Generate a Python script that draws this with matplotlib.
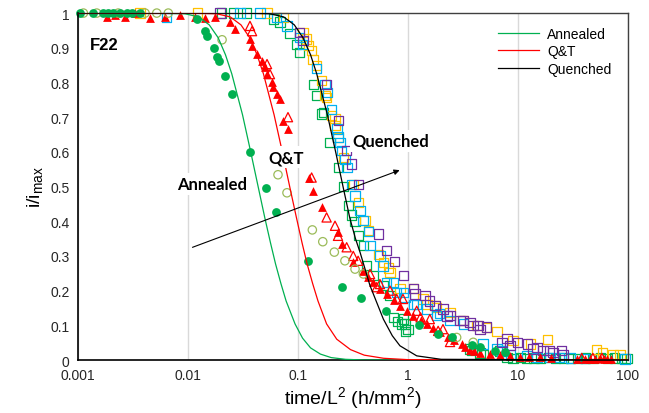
import matplotlib
matplotlib.use("Agg")
import matplotlib.pyplot as plt
from matplotlib.ticker import FixedLocator, FixedFormatter

plt.rcParams['font.family'] = ['Liberation Sans', 'DejaVu Sans']
plt.rcParams['mathtext.default'] = 'regular'

# Annealed - filled and open circles
ann_circ_x = [0.00104, 0.00137, 0.00169, 0.00188, 0.00208, 0.00241, 0.00279, 0.0031, 0.00366,
              0.0121, 0.0143, 0.0149, 0.0172, 0.0184, 0.0191, 0.0217, 0.0251, 0.0366, 0.0512,
              0.0631, 0.124, 0.251, 0.374, 0.631, 1.26, 1.87, 2.51, 3.82, 4.52, 6.18, 7.62]
ann_circ_y = [1.0, 1.0, 1.0, 1.0, 1.0, 1.0, 1.0, 1.0, 1.0,
              0.983, 0.949, 0.934, 0.90, 0.873, 0.862, 0.818, 0.767, 0.599, 0.496,
              0.427, 0.285, 0.21, 0.179, 0.141, 0.101, 0.075, 0.066, 0.043, 0.037, 0.026, 0.022]

ann_open_x = [0.00112, 0.00148, 0.00232, 0.00407, 0.0052, 0.00662, 0.0204, 0.0658, 0.0794,
              0.135, 0.168, 0.214, 0.267, 0.33, 0.393, 2.77, 3.92]
ann_open_y = [1.0, 1.0, 1.0, 1.0, 1.0, 1.0, 0.923, 0.534, 0.482,
              0.375, 0.341, 0.311, 0.286, 0.262, 0.248, 0.065, 0.051]

# Q&T - filled and open triangles
qt_fill_x = [0.00184, 0.00217, 0.00267, 0.0033, 0.00452, 0.00618, 0.00846, 0.0116, 0.0143, 0.0176,
             0.0241, 0.0267, 0.0366, 0.0382, 0.0424, 0.0471, 0.0501, 0.0523, 0.058, 0.0596,
             0.064, 0.0686, 0.0733, 0.0815, 0.127, 0.138, 0.165, 0.232, 0.249, 0.318, 0.394,
             0.43, 0.484, 0.56, 0.64, 0.74, 0.845, 0.98, 1.12, 1.3, 1.48, 1.7, 1.95, 2.33, 2.6,
             3.08, 3.3, 3.66, 4.0, 4.52, 5.56, 6.86, 8.46, 10.4, 12.5, 15.8, 20.0,
             34.4, 40.6, 45.0, 50.1, 55.6, 60.0, 64.4, 70.0]
qt_fill_y = [0.99, 0.995, 0.99, 1.0, 0.985, 0.99, 0.995, 0.99, 0.985, 0.99,
             0.974, 0.955, 0.925, 0.905, 0.882, 0.862, 0.844, 0.824, 0.801, 0.786,
             0.767, 0.752, 0.69, 0.666, 0.524, 0.488, 0.44, 0.368, 0.334, 0.282, 0.257,
             0.24, 0.224, 0.205, 0.19, 0.172, 0.156, 0.142, 0.128, 0.115, 0.104, 0.092, 0.08, 0.065, 0.058,
             0.046, 0.037, 0.03, 0.026, 0.02, 0.017, 0.014, 0.012, 0.009, 0.008, 0.009, 0.006,
             0.003, 0.003, 0.004, 0.003, 0.006, 0.004, 0.003, 0.004]

qt_open_x = [0.0366, 0.0382, 0.0523, 0.0556, 0.0811, 0.133, 0.182, 0.217, 0.231, 0.277, 0.318,
             0.352, 0.452, 0.52, 0.556, 0.686, 0.79, 0.90, 1.2, 1.3, 1.58, 1.88, 2.08, 2.41,
             38.0, 48.0, 58.0]
qt_open_y = [0.963, 0.948, 0.853, 0.824, 0.70, 0.526, 0.411, 0.387, 0.358, 0.325, 0.30,
             0.286, 0.248, 0.21, 0.219, 0.20, 0.176, 0.176, 0.142, 0.123, 0.118, 0.084, 0.089, 0.052,
             0.006, 0.006, 0.006]

# Quenched - open squares, one colour per sample
qg_x = [0.0203, 0.0258, 0.0342, 0.0597, 0.0686, 0.0846, 0.097, 0.104, 0.138, 0.148, 0.164, 0.17,
        0.195, 0.232, 0.26, 0.286, 0.307, 0.33, 0.353, 0.393, 0.421, 0.48, 0.597, 0.686, 0.74, 0.8,
        0.87, 0.908, 0.94, 0.95, 1.0, 3.66, 3.82, 4.52, 4.84, 6.86,
        7.94, 9.0, 10.5, 12.0, 14.0, 16.0, 19.0, 22.0, 26.0, 30.0, 35.0, 41.0, 48.0, 56.0, 65.0,
        76.0, 88.0, 98.0]
qg_y = [1.0, 1.0, 1.0, 0.983, 0.974, 0.94, 0.91, 0.887, 0.795, 0.762, 0.709, 0.714,
        0.627, 0.556, 0.50, 0.445, 0.418, 0.40, 0.358, 0.329, 0.272, 0.243, 0.214, 0.185, 0.123, 0.112,
        0.104, 0.118, 0.104, 0.082, 0.089, 0.032, 0.027, 0.02, 0.017, 0.026,
        0.008, 0.005, 0.007, 0.004, 0.006, 0.005, 0.007, 0.004, 0.006, 0.005, 0.004, 0.006, 0.005,
        0.007, 0.004, 0.006, 0.005, 0.004]

qo_x = [0.00366, 0.0121, 0.0523, 0.0736, 0.111, 0.12, 0.124, 0.133, 0.137, 0.148, 0.164, 0.176,
        0.182, 0.203, 0.217, 0.217, 0.231, 0.258, 0.318, 0.352, 0.407, 0.435, 0.537, 0.595, 0.66,
        0.686, 0.845, 1.12, 1.37, 1.49, 1.76, 1.83, 2.41, 3.16, 4.24, 5.2, 6.45, 9.0, 12.9, 18.4,
        52.0, 59.0, 73.0, 84.5]
qo_y = [1.0, 1.0, 1.0, 0.988, 0.944, 0.925, 0.906, 0.891, 0.867, 0.848, 0.805, 0.762,
        0.757, 0.704, 0.695, 0.675, 0.642, 0.584, 0.507, 0.454, 0.401, 0.373, 0.305, 0.282, 0.265,
        0.253, 0.205, 0.205, 0.176, 0.161, 0.156, 0.152, 0.137, 0.113, 0.099, 0.094, 0.083, 0.056, 0.046, 0.059,
        0.03, 0.02, 0.017, 0.017]

qc_x = [0.0064, 0.0297, 0.0452, 0.064, 0.0794, 0.104, 0.109, 0.148, 0.176, 0.184, 0.203, 0.226,
        0.231, 0.241, 0.25, 0.267, 0.279, 0.307, 0.33, 0.366, 0.39, 0.435, 0.452, 0.556, 0.593,
        0.64, 0.736, 0.79, 0.908, 0.94, 1.12, 1.2, 1.49, 1.83, 1.95, 2.41, 3.18, 4.81, 6.45, 7.16,
        8.5, 12.1, 14.9, 19.5, 24.0, 30.0, 40.0, 93.9]
qc_y = [0.988, 1.0, 1.0, 0.988, 0.963, 0.929, 0.91, 0.84, 0.795, 0.771, 0.723, 0.666,
        0.643, 0.628, 0.603, 0.579, 0.556, 0.507, 0.473, 0.43, 0.401, 0.37, 0.329, 0.30, 0.271,
        0.224, 0.224, 0.195, 0.195, 0.18, 0.161, 0.161, 0.147, 0.128, 0.133, 0.114, 0.104, 0.046, 0.032, 0.026,
        0.017, 0.012, 0.008, 0.008, 0.008, 0.006, 0.005, 0.003]

qp_x = [0.0195, 0.104, 0.111, 0.182, 0.233, 0.277, 0.307, 0.353, 0.537, 0.64, 0.75, 0.908, 1.12,
        1.16, 1.43, 1.58, 1.76, 2.08, 2.26, 2.41, 2.97, 3.16, 3.66, 3.9, 4.33, 4.52, 5.2, 7.16,
        7.94, 8.46, 9.9, 12.3, 13.7, 14.9, 16.9, 19.5, 20.8, 25.0, 25.7]
qp_y = [1.0, 0.944, 0.92, 0.795, 0.69, 0.603, 0.565, 0.507, 0.363, 0.316, 0.284, 0.243, 0.205,
        0.19, 0.185, 0.17, 0.156, 0.147, 0.127, 0.128, 0.113, 0.113, 0.108, 0.099, 0.099, 0.089, 0.095, 0.05,
        0.061, 0.041, 0.051, 0.046, 0.032, 0.037, 0.027, 0.027, 0.022, 0.027, 0.017]

# fitted diffusion curves
ann_fit_x = [0.001, 0.005, 0.0094, 0.0125, 0.0156, 0.0188, 0.0219, 0.025, 0.0313, 0.0375, 0.0438,
             0.05, 0.0563, 0.0625, 0.07, 0.078, 0.094, 0.11, 0.13, 0.16, 0.2, 0.27, 0.4, 100]
ann_fit_y = [1.0, 1.0, 0.998, 0.989, 0.966, 0.929, 0.88, 0.825, 0.707, 0.594, 0.494,
             0.409, 0.337, 0.277, 0.22, 0.17, 0.104, 0.063, 0.035, 0.017, 0.007, 0.002, 0.0, 0.0]

qt_fit_x = [0.001, 0.01, 0.0182, 0.0242, 0.0303, 0.0364, 0.0424, 0.0485, 0.0606, 0.0727, 0.0848,
            0.097, 0.109, 0.121, 0.136, 0.152, 0.182, 0.225, 0.3, 0.4, 0.6, 1.0, 100]
qt_fit_y = [1.0, 1.0, 0.998, 0.989, 0.966, 0.929, 0.88, 0.825, 0.707, 0.594, 0.494,
            0.409, 0.337, 0.277, 0.22, 0.17, 0.104, 0.06, 0.03, 0.014, 0.005, 0.001, 0.0]

q_fit_x = [0.001, 0.03, 0.0556, 0.074, 0.0926, 0.111, 0.13, 0.148, 0.185, 0.222, 0.259, 0.296,
           0.333, 0.367, 0.452, 0.597, 0.72, 0.845, 1.2, 2.0, 100]
q_fit_y = [1.0, 1.0, 0.998, 0.989, 0.966, 0.929, 0.88, 0.825, 0.707, 0.594, 0.494, 0.409,
           0.35, 0.31, 0.214, 0.118, 0.07, 0.041, 0.012, 0.002, 0.0]

xticks = [0.001, 0.01, 0.1, 1, 10, 100]
xtick_labels = ['0.001', '0.01', '0.1', '1', '10', '100']

fig = plt.figure(figsize=(6.49, 4.14), dpi=100)
ax = fig.add_axes([0.1202, 0.128, 0.8474, 0.838])

sq = dict(marker='s', s=44, facecolors='none', linewidths=0.9, clip_on=False, zorder=2)
ax.scatter(qg_x, qg_y, edgecolors='#00B050', **sq)
ax.scatter(qo_x, qo_y, edgecolors='#FFC000', **sq)
ax.scatter(qc_x, qc_y, edgecolors='#00B0F0', **sq)
ax.scatter(qp_x, qp_y, edgecolors='#7030A0', **sq)

ax.scatter(qt_open_x, qt_open_y, marker='^', s=44, facecolors='none', edgecolors='#FF0000',
           linewidths=0.9, clip_on=False, zorder=2)
ax.scatter(qt_fill_x, qt_fill_y, marker='^', s=40, color='#FF0000', linewidths=0,
           clip_on=False, zorder=2)
ax.scatter(ann_open_x, ann_open_y, marker='o', s=36, facecolors='none', edgecolors='#9BBB59',
           linewidths=0.9, clip_on=False, zorder=2)
ax.scatter(ann_circ_x, ann_circ_y, marker='o', s=40, color='#00B050', linewidths=0,
           clip_on=False, zorder=2)

ax.plot(ann_fit_x, ann_fit_y, color='#00B050', lw=0.9, label='Annealed', zorder=3)
ax.plot(qt_fit_x, qt_fit_y, color='#FF0000', lw=0.9, label='Q&T', zorder=3)
ax.plot(q_fit_x, q_fit_y, color='black', lw=0.9, label='Quenched', zorder=3)

ax.set_xscale('log')
ax.set_xlim(0.001, 100)
ax.set_ylim(0, 1)
ax.xaxis.set_major_locator(FixedLocator(xticks))
ax.xaxis.set_major_formatter(FixedFormatter(xtick_labels))
ax.xaxis.set_minor_locator(FixedLocator([]))
ax.set_yticks([0, 0.1, 0.2, 0.3, 0.4, 0.5, 0.6, 0.7, 0.8, 0.9, 1])
ax.set_yticklabels(['0', '0.1', '0.2', '0.3', '0.4', '0.5', '0.6', '0.7', '0.8', '0.9', '1'])
ax.tick_params(length=0, labelsize=10, labelcolor='#262626', pad=6)
ax.grid(axis='x', color='#D9D9D9', lw=1)
ax.set_axisbelow(True)
for side in ['top', 'right']:
    ax.spines[side].set_color('#404040')
    ax.spines[side].set_linewidth(1)
for side in ['left', 'bottom']:
    ax.spines[side].set_color('black')
    ax.spines[side].set_linewidth(1.2)

ax.set_xlabel('time/L$^2$ (h/mm$^2$)', fontsize=14, labelpad=1)
ax.set_ylabel('i/i$_{max}$', fontsize=14, labelpad=4)

ax.legend(loc='upper left', bbox_to_anchor=(0.767, 0.933), bbox_transform=fig.transFigure,
          frameon=False, fontsize=10, handlelength=3.0, handletextpad=0.55,
          labelspacing=0.25, borderpad=0, borderaxespad=0)

box = dict(facecolor='white', edgecolor='none', pad=2)
lbl = dict(fontsize=12, fontweight='bold', family=['Lato', 'DejaVu Sans'],
           ha='center', va='center', zorder=5, bbox=box)
ax.text(0.0165, 0.507, 'Annealed', **lbl)
ax.text(0.0778, 0.585, 'Q&T', **lbl)
ax.text(0.70, 0.632, 'Quenched', **lbl)
ax.text(0.00129, 0.91, 'F22', fontsize=12, fontweight='bold', ha='left', va='center')

ax.annotate('', xy=(0.887, 0.55), xytext=(0.0104, 0.322),
            arrowprops=dict(arrowstyle='-|>', color='black', lw=0.8, mutation_scale=8),
            zorder=4)

fig.savefig('out.png', dpi=100)
